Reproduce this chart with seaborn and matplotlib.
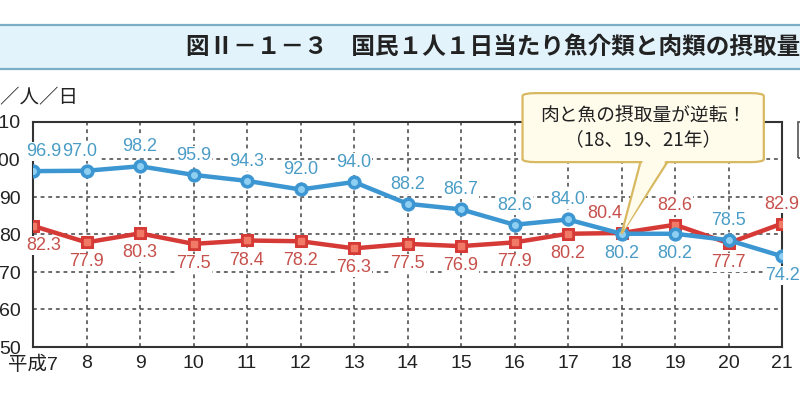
import numpy as np
import pandas as pd
import matplotlib
matplotlib.use("Agg")
import matplotlib.pyplot as plt
import seaborn as sns
from matplotlib.patches import FancyBboxPatch, Polygon, Rectangle
from matplotlib.lines import Line2D

# ---- data ----
years = [7, 8, 9, 10, 11, 12, 13, 14, 15, 16, 17, 18, 19, 20, 21]
year_labels = ["平成7", "8", "9", "10", "11", "12", "13", "14", "15", "16", "17", "18", "19", "20", "21"]
fish = [96.9, 97.0, 98.2, 95.9, 94.3, 92.0, 94.0, 88.2, 86.7, 82.6, 84.0, 80.2, 80.2, 78.5, 74.2]
meat = [82.3, 77.9, 80.3, 77.5, 78.4, 78.2, 76.3, 77.5, 76.9, 77.9, 80.2, 80.4, 82.6, 77.7, 82.9]
# label placement: +1 above, -1 below
fish_pos = [1, 1, 1, 1, 1, 1, 1, 1, 1, 1, 1, -1, -1, 1, -1]
meat_pos = [-1, -1, -1, -1, -1, -1, -1, -1, -1, -1, -1, 1, 1, -1, 1]
y_ticks = [50, 60, 70, 80, 90, 100, 110]
title = "図Ⅱ－１－３　国民１人１日当たり魚介類と肉類の摂取量"
unit = "g／人／日"
callout = "肉と魚の摂取量が逆転！\n（18、19、21年）"

df = pd.DataFrame({"year": years, "fish": fish, "meat": meat})

sns.set_theme(style="white")
plt.rcParams["font.family"] = ["Liberation Sans", "Noto Sans CJK JP"]

W, H = 800, 419
fig = plt.figure(figsize=(8.0, 4.19), dpi=100)
ax = fig.add_axes([33 / W, 1 - 347 / H, (782 - 33) / W, (347 - 122) / H])

BLUE = "#3c96d2"
BLUE_L = "#8fd0f2"
BLUE_T = "#4a9cc6"
RED = "#d63a36"
RED_L = "#f07a66"
RED_T = "#c6504b"

sns.lineplot(data=df, x="year", y="meat", ax=ax, color=RED, lw=3.2, marker="s",
             markersize=9, markeredgecolor=RED, markerfacecolor=RED, zorder=4)
sns.lineplot(data=df, x="year", y="fish", ax=ax, color=BLUE, lw=3.2, marker="o",
             markersize=9.5, markeredgecolor=BLUE, markerfacecolor=BLUE, zorder=5)
# glossy centers
ax.plot(df["year"], df["meat"], ls="none", marker="s", markersize=4, color=RED_L, zorder=4.5)
ax.plot(df["year"], df["fish"], ls="none", marker="o", markersize=4, color=BLUE_L, zorder=5.5)

def label(series, pos, color, shifts):
    for i, (x, v, p) in enumerate(zip(years, series, pos)):
        dx = shifts.get(i, 0)
        ax.annotate(f"{v:.1f}", (x, v), xytext=(dx, 8 * p), textcoords="offset points",
                    ha="center", va="bottom" if p > 0 else "top", fontsize=13,
                    color=color, zorder=3, annotation_clip=False,
                    bbox=dict(fc="white", ec="none", pad=0.6))

label(fish, fish_pos, BLUE_T, {0: 8, 1: -5})
label(meat, meat_pos, RED_T, {0: 8, 11: -12})

ax.set_xlim(7, 21)
ax.set_ylim(50, 110)
ax.set_xticks(years)
ax.set_xticklabels(year_labels)
ax.set_yticks(y_ticks)
ax.set_yticklabels([str(t) for t in y_ticks])
ax.set_xlabel("")
ax.set_ylabel("")
ax.tick_params(axis="both", length=0, labelsize=14, colors="#222222")
ax.tick_params(axis="y", pad=9)
ax.tick_params(axis="x", pad=6)
ax.grid(True, ls=(0, (2.5, 2.5)), color="#444444", lw=1.1)
ax.set_axisbelow(True)
for s in ax.spines.values():
    s.set_color("#333333")
    s.set_linewidth(1.5)
    s.set_visible(True)
ax.set_facecolor("white")

# callout (box + tail pointing to 18年)
box_x0, box_x1, box_y0, box_y1 = 16.15, 20.66, 99.3, 117.7
tail = [(18.36, 99.6), (18.0, 80.2), (18.87, 99.6)]
fb = FancyBboxPatch((box_x0, box_y0), box_x1 - box_x0, box_y1 - box_y0,
                    boxstyle="round,pad=0,rounding_size=0.25", mutation_aspect=3.2,
                    fc="#fffcec", ec="#d8b860", lw=1.6, zorder=7, clip_on=False)
ax.add_patch(fb)
ax.add_patch(Polygon(tail, closed=True, fc="#fffcec", ec="#d8b860", lw=1.6, zorder=6.9, clip_on=False))
ax.add_patch(Polygon([(18.40, 99.8), (18.05, 81.2), (18.83, 99.8)], closed=True,
                     fc="#fffcec", ec="none", zorder=7.1, clip_on=False))
ax.text((box_x0 + box_x1) / 2, (box_y0 + box_y1) / 2, callout, ha="center", va="center",
        fontsize=13.5, family=["Noto Sans CJK JP"], color="#222222", linespacing=1.25,
        zorder=8, clip_on=False)

# title band
fig.patches.append(Rectangle((0, 1 - 69 / H), 1, 44 / H, transform=fig.transFigure,
                             fc="#e2f3fb", ec="none", zorder=0))
for yy in (25, 69):
    fig.lines.append(Line2D([0, 1], [1 - yy / H] * 2, transform=fig.transFigure,
                            color="#7aaec4", lw=1.6))
fig.text(186 / W, 1 - 47 / H, title, ha="left", va="center", fontsize=17,
         fontweight="bold", family=["Noto Sans CJK JP"], color="#222222")

# unit label (partially cut at left)
fig.text(78 / W, 1 - 97 / H, unit, ha="right", va="center", fontsize=14,
         family=["Liberation Sans", "Noto Sans CJK JP"], color="#222222")

# partial legend frame at right edge
fig.patches.append(Rectangle((798 / W, 1 - 158 / H), 30 / W, 36 / H, transform=fig.transFigure,
                             fc="none", ec="#555555", lw=1.2))

fig.savefig("out.png", dpi=100, facecolor="white")
